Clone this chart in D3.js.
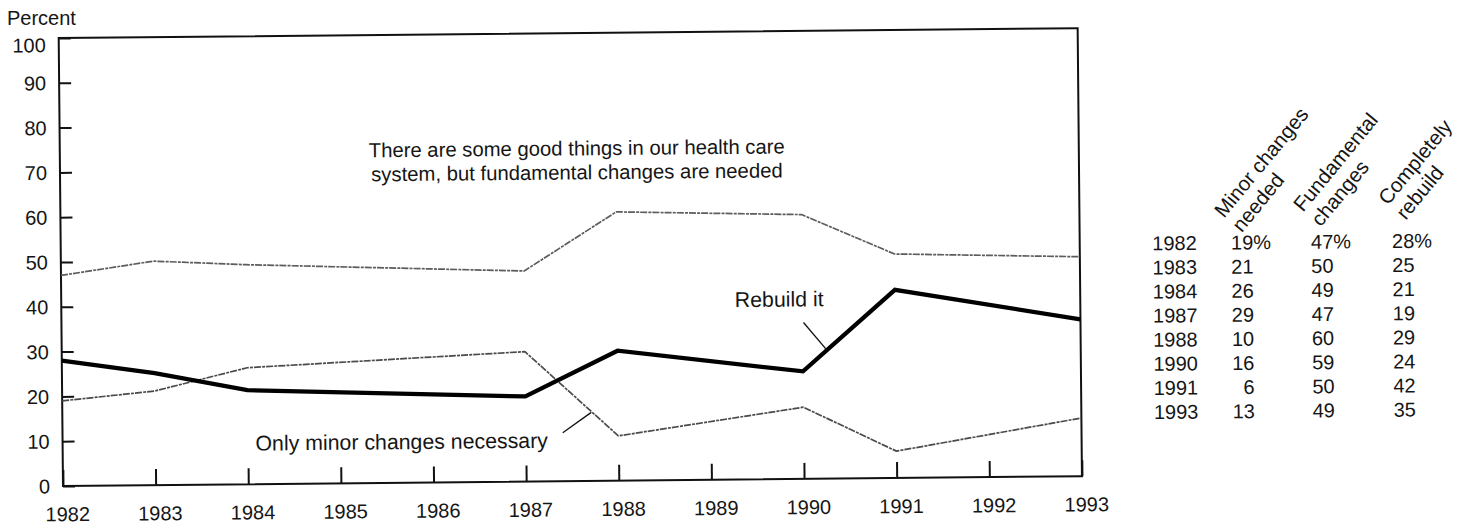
<!DOCTYPE html>
<html>
<head>
<meta charset="utf-8">
<script src="https://cdn.jsdelivr.net/npm/d3@7"></script>
<style>
  html, body { margin: 0; padding: 0; background: #fff; }
  svg { display: block; }
  text { font-family: "Liberation Sans", Arial, Helvetica, sans-serif; fill: #151515; }
</style>
</head>
<body>
<svg id="chart" width="1466" height="529"></svg>
<script>
// ---- data ----
const years = [1982, 1983, 1984, 1987, 1988, 1990, 1991, 1993];
const minorChanges = [19, 21, 26, 29, 10, 16, 6, 13];
const fundamentalChanges = [47, 50, 49, 47, 60, 59, 50, 49];
const completelyRebuild = [28, 25, 21, 19, 29, 24, 42, 35];
const xTickYears = [1982, 1983, 1984, 1985, 1986, 1987, 1988, 1989, 1990, 1991, 1992, 1993];
const yTickValues = [0, 10, 20, 30, 40, 50, 60, 70, 80, 90, 100];
const tableHeaders = [["Minor changes", "needed"], ["Fundamental", "changes"], ["Completely", "rebuild"]];
const yAxisTitle = "Percent";
const noteFundamental = ["There are some good things in our health care", "system, but fundamental changes are needed"];
const noteRebuild = "Rebuild it";
const noteMinor = "Only minor changes necessary";

// ---- layout ----
const svg = d3.select("#chart");
const noteFont = 21.3;
const tableFont = 20;
const x = d3.scaleLinear().domain([1982, 1993]).range([63, 1082]);
const y = d3.scaleLinear().domain([0, 100]).range([486, 38]);
const tilt = -0.55; // slight scan tilt of the printed figure

svg.append("text")
  .attr("x", 7).attr("y", 25)
  .style("font-size", "20px")
  .text(yAxisTitle);

const plot = svg.append("g")
  .attr("transform", `rotate(${tilt}, ${x(1982)}, ${y(0)})`);

// frame
plot.append("rect")
  .attr("x", x(1982)).attr("y", y(100))
  .attr("width", x(1993) - x(1982)).attr("height", y(0) - y(100))
  .attr("fill", "none").attr("stroke", "#111").attr("stroke-width", 2);

// x axis (ticks pointing up)
const gx = plot.append("g")
  .attr("transform", `translate(0,${y(0)})`)
  .call(d3.axisBottom(x).tickValues(xTickYears).tickFormat(d3.format("d"))
    .tickSizeInner(-16).tickSizeOuter(0).tickPadding(21));
gx.select(".domain").remove();
gx.selectAll(".tick line").attr("stroke", "#111").attr("stroke-width", 2);
gx.selectAll(".tick text").attr("dx", 4).style("font-size", "20px")
  .style("font-family", "Liberation Sans, Arial, sans-serif").attr("fill", "#151515");

// y axis (ticks pointing right)
const gy = plot.append("g")
  .attr("transform", `translate(${x(1982)},0)`)
  .call(d3.axisLeft(y).tickValues(yTickValues).tickFormat(d3.format("d"))
    .tickSizeInner(-12).tickSizeOuter(0).tickPadding(13));
gy.select(".domain").remove();
gy.selectAll(".tick line").attr("stroke", "#111").attr("stroke-width", 2);
gy.selectAll(".tick text").style("font-size", "20px")
  .style("font-family", "Liberation Sans, Arial, sans-serif").attr("fill", "#151515")
  .attr("dy", d => d === 100 ? "0.68em" : "0.34em");

// series
const line = d3.line().x(d => x(d.year)).y(d => y(d.value));
const toPoints = arr => years.map((yr, i) => ({ year: yr, value: arr[i] }));

plot.append("path").datum(toPoints(fundamentalChanges))
  .attr("d", line).attr("fill", "none")
  .attr("stroke", "#5c5c5c").attr("stroke-width", 1.7)
  .attr("stroke-dasharray", "7 1.2 3 1").attr("stroke-linejoin", "round");

plot.append("path").datum(toPoints(minorChanges))
  .attr("d", line).attr("fill", "none")
  .attr("stroke", "#4a4a4a").attr("stroke-width", 1.7)
  .attr("stroke-dasharray", "7 1.2 3 1").attr("stroke-linejoin", "round");

plot.append("path").datum(toPoints(completelyRebuild))
  .attr("d", line).attr("fill", "none")
  .attr("stroke", "#000").attr("stroke-width", 4.2)
  .attr("stroke-linejoin", "miter");

// annotations
const notes = plot.append("g").style("font-size", noteFont + "px");
notes.selectAll("text.fund").data(noteFundamental).join("text")
  .attr("class", "fund")
  .attr("x", x(1987.58))
  .attr("y", (d, i) => y(72.7) + i * 24)
  .attr("text-anchor", "middle")
  .style("font-size", "20.3px")
  .text(d => d);

notes.append("text")
  .attr("x", x(1989.75)).attr("y", y(38.5))
  .attr("text-anchor", "middle")
  .text(noteRebuild);
notes.append("line")
  .attr("x1", x(1990.01)).attr("y1", y(34.9))
  .attr("x2", x(1990.26)).attr("y2", y(28.7))
  .attr("stroke", "#111").attr("stroke-width", 1.3);

notes.append("text")
  .attr("x", x(1985.66)).attr("y", y(7.5))
  .attr("text-anchor", "middle")
  .text(noteMinor);
notes.append("line")
  .attr("x1", x(1987.40)).attr("y1", y(10.8))
  .attr("x2", x(1987.71)).attr("y2", y(15.3))
  .attr("stroke", "#111").attr("stroke-width", 1.3);

// ---- data table ----
const table = svg.append("g")
  .attr("transform", `rotate(${tilt}, 1290, 320)`)
  .style("font-size", tableFont + "px");
const rowY0 = 249, rowStep = 24.1;
const yearColX = 1153;
const colRight = [1254, 1334, 1415];
const colHeadStart = [[1225, 218], [1304, 213], [1389, 207]];
const series = [minorChanges, fundamentalChanges, completelyRebuild];

table.selectAll("text.year").data(years).join("text")
  .attr("class", "year")
  .attr("x", yearColX).attr("y", (d, i) => rowY0 + i * rowStep)
  .text(d => d);

series.forEach((arr, c) => {
  table.selectAll(`text.c${c}`).data(arr).join("text")
    .attr("class", `c${c}`)
    .attr("x", colRight[c]).attr("y", (d, i) => rowY0 + i * rowStep)
    .attr("text-anchor", "end")
    .text(d => d);
  table.append("text")
    .attr("x", colRight[c]).attr("y", rowY0)
    .text("%");
});

tableHeaders.forEach((lines, c) => {
  const [hx, hy] = colHeadStart[c];
  const g = table.append("g").attr("transform", `translate(${hx},${hy}) rotate(-50)`)
    .style("font-size", "20.5px");
  g.selectAll("text").data(lines).join("text")
    .attr("x", 0).attr("y", (d, i) => i * 23)
    .text(d => d);
});
</script>
</body>
</html>
